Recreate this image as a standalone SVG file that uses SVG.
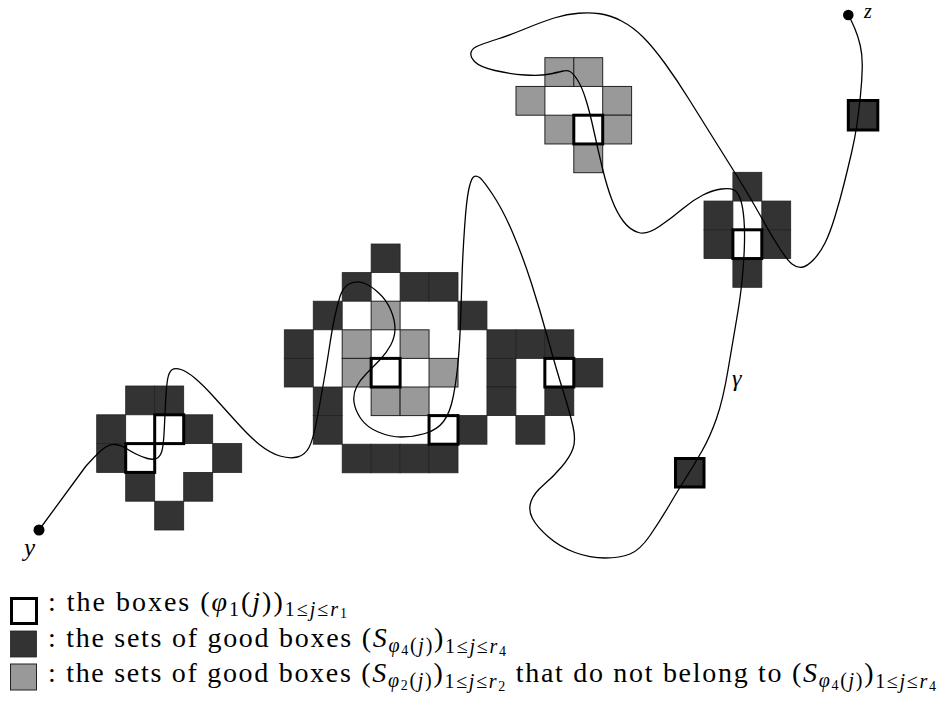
<svg xmlns="http://www.w3.org/2000/svg" width="941" height="718" viewBox="0 0 941 718">
<style>
.d{fill:#333;stroke:#222;stroke-width:0.8}
.g{fill:#999;stroke:#222;stroke-width:1}
.b{fill:#fff;stroke:#000;stroke-width:3}
.bd{fill:#333;stroke:#000;stroke-width:3}
.curve{fill:none;stroke:#000;stroke-width:1.3;stroke-linejoin:round}
.lg{font-family:"Liberation Serif","DejaVu Serif",serif;font-size:28px;fill:#000}
.it{font-style:italic}
.s1{font-size:20px}
.s2{font-size:14px}
.lab{font-family:"Liberation Serif","DejaVu Serif",serif;font-style:italic;fill:#000}
</style>
<rect width="941" height="718" fill="#fff"/>
<g id="cluster-left">
<rect class="d" x="125.7" y="386" width="29" height="28.8"/>
<rect class="d" x="154.7" y="386" width="29" height="28.8"/>
<rect class="d" x="96.7" y="414.8" width="29" height="28.8"/>
<rect class="d" x="183.7" y="414.8" width="29" height="28.8"/>
<rect class="d" x="96.7" y="443.6" width="29" height="28.8"/>
<rect class="d" x="212.7" y="443.6" width="29" height="28.8"/>
<rect class="d" x="125.7" y="472.4" width="29" height="28.8"/>
<rect class="d" x="183.7" y="472.4" width="29" height="28.8"/>
<rect class="d" x="154.7" y="501.2" width="29" height="28.8"/>
<rect class="b" x="154.7" y="414.8" width="29" height="28.8"/>
<rect class="b" x="125.7" y="443.6" width="29" height="28.8"/>
</g>
<g id="cluster-middle">
<rect class="d" x="371.15" y="244" width="28.95" height="28.6"/>
<rect class="d" x="342.2" y="272.6" width="28.95" height="28.6"/>
<rect class="d" x="400.1" y="272.6" width="28.95" height="28.6"/>
<rect class="d" x="429.05" y="272.6" width="28.95" height="28.6"/>
<rect class="d" x="313.25" y="301.2" width="28.95" height="28.6"/>
<rect class="d" x="458" y="301.2" width="28.95" height="28.6"/>
<rect class="d" x="284.3" y="329.8" width="28.95" height="28.6"/>
<rect class="d" x="486.95" y="329.8" width="28.95" height="28.6"/>
<rect class="d" x="515.9" y="329.8" width="28.95" height="28.6"/>
<rect class="d" x="544.85" y="329.8" width="28.95" height="28.6"/>
<rect class="d" x="284.3" y="358.4" width="28.95" height="28.6"/>
<rect class="d" x="486.95" y="358.4" width="28.95" height="28.6"/>
<rect class="d" x="573.8" y="358.4" width="28.95" height="28.6"/>
<rect class="d" x="313.25" y="387" width="28.95" height="28.6"/>
<rect class="d" x="486.95" y="387" width="28.95" height="28.6"/>
<rect class="d" x="544.85" y="387" width="28.95" height="28.6"/>
<rect class="d" x="313.25" y="415.6" width="28.95" height="28.6"/>
<rect class="d" x="458" y="415.6" width="28.95" height="28.6"/>
<rect class="d" x="515.9" y="415.6" width="28.95" height="28.6"/>
<rect class="d" x="342.2" y="444.2" width="28.95" height="28.6"/>
<rect class="d" x="371.15" y="444.2" width="28.95" height="28.6"/>
<rect class="d" x="400.1" y="444.2" width="28.95" height="28.6"/>
<rect class="d" x="429.05" y="444.2" width="28.95" height="28.6"/>
<rect class="g" x="371.15" y="301.2" width="28.95" height="28.6"/>
<rect class="g" x="342.2" y="329.8" width="28.95" height="28.6"/>
<rect class="g" x="400.1" y="329.8" width="28.95" height="28.6"/>
<rect class="g" x="342.2" y="358.4" width="28.95" height="28.6"/>
<rect class="g" x="429.05" y="358.4" width="28.95" height="28.6"/>
<rect class="g" x="371.15" y="387" width="28.95" height="28.6"/>
<rect class="g" x="400.1" y="387" width="28.95" height="28.6"/>
<rect class="b" x="371.15" y="358.4" width="28.95" height="28.6"/>
<rect class="b" x="544.85" y="358.4" width="28.95" height="28.6"/>
<rect class="b" x="429.05" y="415.6" width="28.95" height="28.6"/>
</g>
<g id="cluster-upper">
<rect class="g" x="544.9" y="57.7" width="28.9" height="28.75"/>
<rect class="g" x="573.8" y="57.7" width="28.9" height="28.75"/>
<rect class="g" x="516" y="86.45" width="28.9" height="28.75"/>
<rect class="g" x="602.7" y="86.45" width="28.9" height="28.75"/>
<rect class="g" x="544.9" y="115.2" width="28.9" height="28.75"/>
<rect class="g" x="602.7" y="115.2" width="28.9" height="28.75"/>
<rect class="g" x="573.8" y="143.95" width="28.9" height="28.75"/>
<rect class="b" x="573.8" y="115.2" width="28.9" height="28.75"/>
</g>
<g id="cluster-right">
<rect class="d" x="732.9" y="172.3" width="28.9" height="28.75"/>
<rect class="d" x="704" y="201.05" width="28.9" height="28.75"/>
<rect class="d" x="761.8" y="201.05" width="28.9" height="28.75"/>
<rect class="d" x="704" y="229.8" width="28.9" height="28.75"/>
<rect class="d" x="761.8" y="229.8" width="28.9" height="28.75"/>
<rect class="d" x="732.9" y="258.55" width="28.9" height="28.75"/>
<rect class="b" x="732.9" y="229.8" width="28.9" height="28.75"/>
</g>
<g id="box-top-right"><rect class="bd" x="848.3" y="100.5" width="29.5" height="29.5"/></g>
<g id="box-bottom"><rect class="bd" x="675.5" y="458.5" width="28.5" height="28.5"/></g>
<g id="connectors">
<path class="curve" d="M39,530 L86,466 L93,458.5 Q100,451 105,447.5 Q110,444 115.5,444.5 Q121,445 125.5,448 Q130,451 136,454 Q142,457 147.5,458.5 Q153,460 156.5,458.5 Q160,457 161.75,451.5 Q163.5,446 164.25,429.5 Q165,413 165.75,399 Q166.5,385 167.75,378.5 Q169,372 172,369.75 Q175,367.5 181,369.5 Q187,371.5 195,378.25 Q203,385 213,396 Q223,407 236.5,422 Q250,437 260,445 Q270,453 280,456 Q290,459 297.5,457 Q305,455 309,447.5 Q313,440 316.5,421.5 Q320,403 323.5,383 Q327,363 329.5,346.5 Q332,330 334.5,318 Q337,306 340,296.5 Q343,287 349.5,283.75 Q356,280.5 363,282.75 Q370,285 378.25,292.5 Q386.5,300 390.75,310 Q395,320 395,328.5 Q395,337 390.75,345 Q386.5,353 379.75,360 Q373,367 366.5,373.5 Q360,380 356.5,387 Q353,394 354,402 Q355,410 360.75,418.5 Q366.5,427 378.25,432 Q390,437 401.5,437 Q413,437 425,433.5 Q437,430 443.5,421.5 Q450,413 453.25,396.5 Q456.5,380 458.25,360 Q460,340 460.75,315 Q461.5,290 462.25,270 Q463,250 464.75,225 Q466.5,200 468.75,189.5 Q471,179 473.5,177 Q476,175 479.5,177.5 Q483,180 493,195 Q503,210 513,233.5 Q523,257 531.5,283.5 Q540,310 548.25,340 Q556.5,370 563.25,391.5 Q570,413 573,426.5 Q576,440 573,448.5 Q570,457 561.5,467 Q553,477 543.5,485 Q534,493 531,501.5 Q528,510 532.5,518.5 Q537,527 548.5,537 Q560,547 575,552.5 Q590,558 605,558 Q620,558 630,554 Q640,550 650,535.5 Q660,521 670,504 Q680,487 687,476 Q694,465 702,451 Q710,437 716.5,418.5 Q723,400 728,370 Q733,340 736.5,320 Q740,300 741.75,283.5 Q743.5,267 744.25,250 Q745,233 744,220 Q743,207 740.5,199.5 Q738,192 734,190 Q730,188 721.5,189 Q713,190 703,195 Q693,200 683,208.5 Q673,217 660,226 Q647,235 638.5,232.5 Q630,230 623.5,221.5 Q617,213 612,200 Q607,187 602.5,168.5 Q598,150 594,131.5 Q590,113 586,100 Q582,87 577.5,80 Q573,73 570,71.5 Q567,70 562,71.25 Q557,72.5 548.5,74.25 Q540,76 525,75 Q510,74 495,70.5 Q480,67 475,62 Q470,57 471,52.5 Q472,48 479.5,45.25 Q487,42.5 498.5,38.75 Q510,35 526.5,28.25 Q543,21.5 555,17.75 Q567,14 578.5,13.25 Q590,12.5 600,13.75 Q610,15 621.5,21 Q633,27 643,37 Q653,47 665,63.5 Q677,80 688.5,98.5 Q700,117 713.5,138.5 Q727,160 738.5,178.5 Q750,197 760,215 Q770,233 778.5,246.5 Q787,260 792,264 Q797,268 802,267.25 Q807,266.5 813.5,259.75 Q820,253 825,243 Q830,233 835,216.5 Q840,200 844,184 Q848,168 851.5,153 Q855,138 857,124 Q859,110 860.5,95 Q862,80 862.25,67.5 Q862.5,55 860.25,45.5 Q858,36 855,29 Q852,22 850.15,18.5 L848.3,15"/>
</g>
<g id="point-y"><circle cx="39" cy="530" r="5.5" fill="#000"/><text class="lab" x="24" y="556" font-size="25">y</text></g>
<g id="point-z"><circle cx="848.3" cy="15" r="5.3" fill="#000"/><text class="lab" x="864" y="18" font-size="20">z</text></g>
<g id="label-gamma"><text class="lab" x="732" y="386" font-size="24">γ</text></g>
<g id="legend-1">
<rect class="b" x="11.5" y="598.5" width="25" height="25"/>
<text class="lg" x="48" y="611" textLength="299" lengthAdjust="spacing">: the boxes (<tspan class="it">φ</tspan><tspan class="s1" dy="5">1</tspan><tspan dy="-5">(</tspan><tspan class="it">j</tspan>))<tspan class="s1" dy="5">1≤</tspan><tspan class="it s1">j</tspan><tspan class="s1">≤</tspan><tspan class="it s1">r</tspan><tspan class="s2" dy="2">1</tspan></text>
</g>
<g id="legend-2">
<rect class="d" x="10.5" y="631" width="26" height="26"/>
<text class="lg" x="48" y="647" textLength="458" lengthAdjust="spacing">: the sets of good boxes (<tspan class="it">S</tspan><tspan class="it s1" dy="5">φ</tspan><tspan class="s2" dy="3">4</tspan><tspan class="s1" dy="-3">(</tspan><tspan class="it s1">j</tspan><tspan class="s1">)</tspan><tspan dy="-5">)</tspan><tspan class="s1" dy="6">1≤</tspan><tspan class="it s1">j</tspan><tspan class="s1">≤</tspan><tspan class="it s1">r</tspan><tspan class="s2" dy="3">4</tspan></text>
</g>
<g id="legend-3">
<rect class="g" x="10.5" y="664" width="26" height="26"/>
<text class="lg" x="48" y="682" textLength="888" lengthAdjust="spacing">: the sets of good boxes (<tspan class="it">S</tspan><tspan class="it s1" dy="5">φ</tspan><tspan class="s2" dy="3">2</tspan><tspan class="s1" dy="-3">(</tspan><tspan class="it s1">j</tspan><tspan class="s1">)</tspan><tspan dy="-5">)</tspan><tspan class="s1" dy="6">1≤</tspan><tspan class="it s1">j</tspan><tspan class="s1">≤</tspan><tspan class="it s1">r</tspan><tspan class="s2" dy="3">2</tspan><tspan dy="-9"> that do not belong to (</tspan><tspan class="it">S</tspan><tspan class="it s1" dy="5">φ</tspan><tspan class="s2" dy="3">4</tspan><tspan class="s1" dy="-3">(</tspan><tspan class="it s1">j</tspan><tspan class="s1">)</tspan><tspan dy="-5">)</tspan><tspan class="s1" dy="6">1≤</tspan><tspan class="it s1">j</tspan><tspan class="s1">≤</tspan><tspan class="it s1">r</tspan><tspan class="s2" dy="3">4</tspan></text>
</g>
</svg>
